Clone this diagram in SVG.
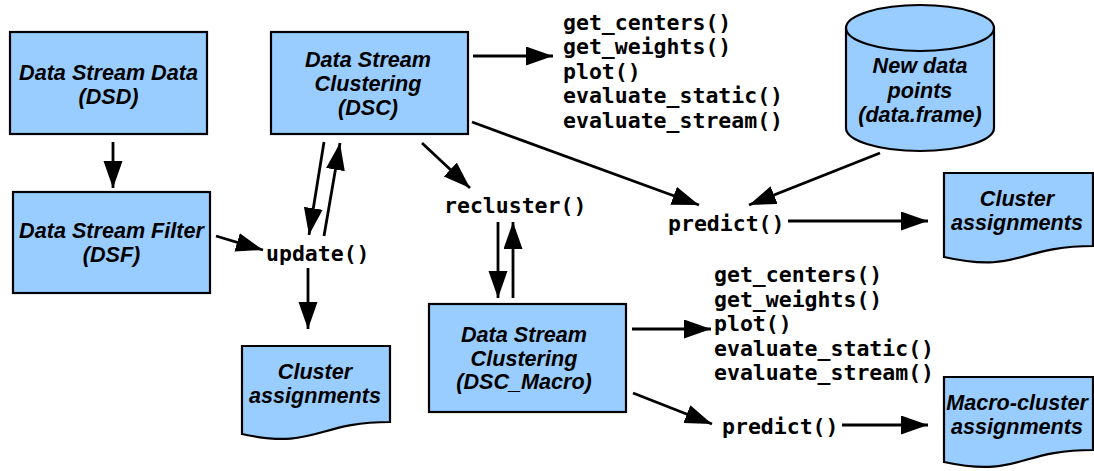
<svg xmlns="http://www.w3.org/2000/svg" width="1094" height="471" viewBox="0 0 1094 471">
<style>
.node{fill:#99ccff;stroke:#000;stroke-width:2.2}
.lbl{font-family:"Liberation Sans",Arial,sans-serif;font-weight:bold;font-style:italic;font-size:21.6px;text-anchor:middle;fill:#000}
.code{font-family:"DejaVu Sans Mono",monospace;font-weight:bold;font-size:21.5px;fill:#000}
.arr{stroke:#000;stroke-width:2.8;fill:none;marker-end:url(#ah)}
</style>
<defs>
<marker id="ah" markerUnits="userSpaceOnUse" markerWidth="28" markerHeight="20" refX="27" refY="9.5" orient="auto">
<path d="M0,0 L27,9.5 L0,19 Z" fill="#000"/>
</marker>
</defs>
<rect width="1094" height="471" fill="#fff"/>
<g id="dsd">
<rect class="node" x="10" y="32" width="197" height="102"/>
<text class="lbl" x="108.5" y="80">Data Stream Data</text>
<text class="lbl" x="108.5" y="104">(DSD)</text>
</g>
<g id="dsf">
<rect class="node" x="13" y="192" width="197" height="101"/>
<text class="lbl" x="111.5" y="238">Data Stream Filter</text>
<text class="lbl" x="111.5" y="262">(DSF)</text>
</g>
<g id="dsc">
<rect class="node" x="271" y="32" width="197" height="102"/>
<text class="lbl" x="368" y="67">Data Stream</text>
<text class="lbl" x="368" y="91">Clustering</text>
<text class="lbl" x="368" y="115">(DSC)</text>
</g>
<g id="dscmacro">
<rect class="node" x="429" y="304" width="197" height="108"/>
<text class="lbl" x="524" y="342">Data Stream</text>
<text class="lbl" x="524" y="365.5">Clustering</text>
<text class="lbl" x="524" y="389">(DSC_Macro)</text>
</g>
<g id="newdata">
<path class="node" d="M846,28 V128 A74,23 0 0 0 994,128 V28 A74,23 0 0 0 846,28 Z"/>
<path d="M846,28 A74,23 0 0 0 994,28" fill="none" stroke="#000" stroke-width="2.2"/>
<text class="lbl" x="920" y="73">New data</text>
<text class="lbl" x="920" y="97.5">points</text>
<text class="lbl" x="920" y="122">(data.frame)</text>
</g>
<g id="clusterassign1">
<path class="node" d="M944,173 H1093 V246 C1018.5,246 1018.5,274 944,257 Z"/>
<text class="lbl" x="1017" y="206">Cluster</text>
<text class="lbl" x="1017" y="230">assignments</text>
</g>
<g id="clusterassign2">
<path class="node" d="M242,346 H390 V422 C316,422 316,450 242,434 Z"/>
<text class="lbl" x="315" y="379">Cluster</text>
<text class="lbl" x="315" y="403">assignments</text>
</g>
<g id="macroassign">
<path class="node" d="M944,377 H1093 V450 C1018.5,450 1018.5,478 944,462 Z"/>
<text class="lbl" x="1017" y="410">Macro-cluster</text>
<text class="lbl" x="1017" y="434">assignments</text>
</g>
<g id="methods1">
<text class="code" x="563" y="30">get_centers()</text>
<text class="code" x="563" y="54.4">get_weights()</text>
<text class="code" x="563" y="78.8">plot()</text>
<text class="code" x="563" y="103.2">evaluate_static()</text>
<text class="code" x="563" y="127.6">evaluate_stream()</text>
</g>
<g id="methods2">
<text class="code" x="714" y="282">get_centers()</text>
<text class="code" x="714" y="306.5">get_weights()</text>
<text class="code" x="714" y="331">plot()</text>
<text class="code" x="714" y="355.5">evaluate_static()</text>
<text class="code" x="714" y="380">evaluate_stream()</text>
</g>
<g id="update"><text class="code" x="266" y="261">update()</text></g>
<g id="recluster"><text class="code" x="444" y="213">recluster()</text></g>
<g id="predict1"><text class="code" x="668" y="231">predict()</text></g>
<g id="predict2"><text class="code" x="722" y="434">predict()</text></g>
<g id="connectors">
<line class="arr" x1="113" y1="142" x2="113" y2="188"/>
<line class="arr" x1="216" y1="236" x2="263" y2="250"/>
<line class="arr" x1="324" y1="142" x2="309" y2="235"/>
<line class="arr" x1="324" y1="236" x2="340" y2="143"/>
<line class="arr" x1="308" y1="268" x2="308" y2="329"/>
<line class="arr" x1="422" y1="143" x2="470" y2="188"/>
<line class="arr" x1="498" y1="222" x2="498" y2="298"/>
<line class="arr" x1="513" y1="298" x2="513" y2="222"/>
<line class="arr" x1="473" y1="56" x2="553" y2="56"/>
<line class="arr" x1="472" y1="122" x2="699" y2="205"/>
<line class="arr" x1="880" y1="153" x2="749" y2="205"/>
<line class="arr" x1="788" y1="221" x2="928" y2="221"/>
<line class="arr" x1="632" y1="329" x2="711" y2="329"/>
<line class="arr" x1="633" y1="393" x2="712" y2="424"/>
<line class="arr" x1="842" y1="425" x2="928" y2="425"/>
</g>
</svg>
